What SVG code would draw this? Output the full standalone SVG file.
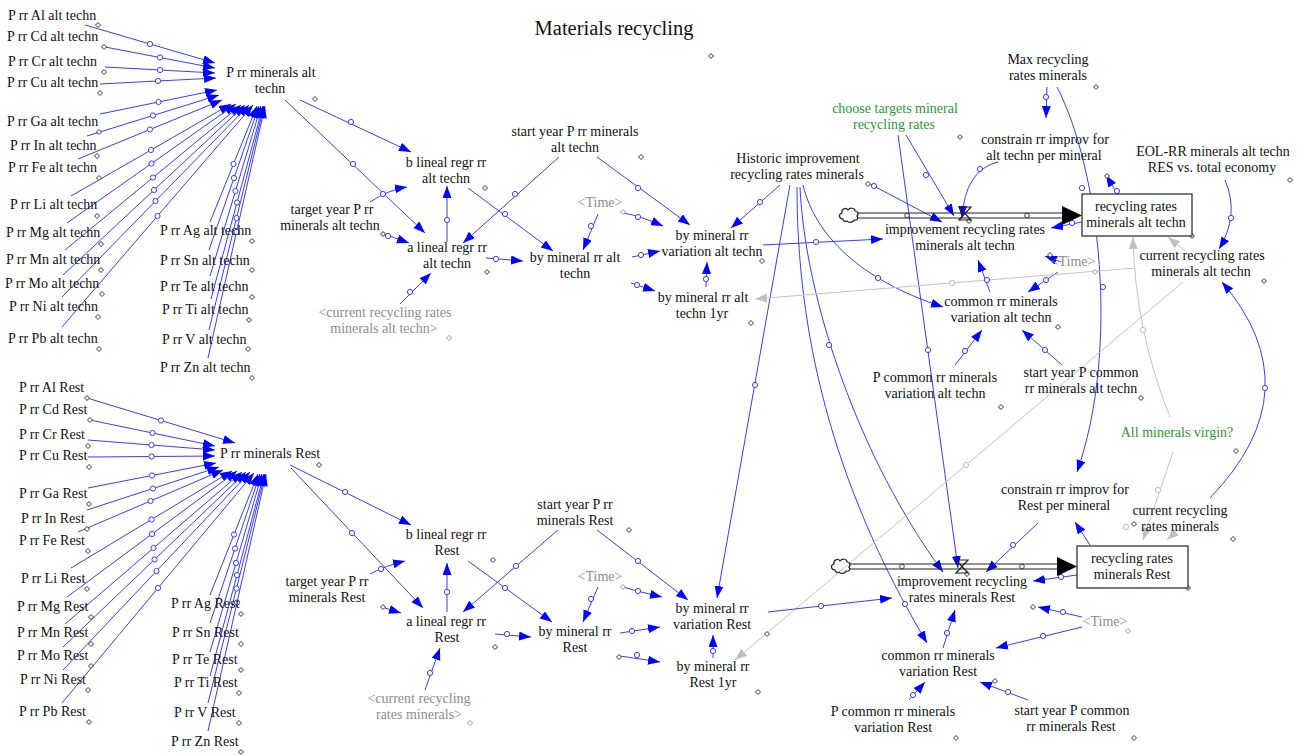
<svg xmlns="http://www.w3.org/2000/svg" width="1304" height="756" viewBox="0 0 1304 756">
<style>
text{font-family:"Liberation Serif","Times New Roman",serif;font-size:14px;fill:#111;text-anchor:middle}
.s{text-anchor:start}
.gy{fill:#8c8c8c}
.gn{fill:#2f962f}
.ttl{font-size:20.5px}
.c{fill:none;stroke:#3a3aff;stroke-width:1;marker-end:url(#ab)}
.cg{fill:none;stroke:#c4c4c4;stroke-width:1;marker-end:url(#ag)}
.m{fill:#fff;stroke:#3a3aff;stroke-width:1}
.mg{fill:#fff;stroke:#bbb;stroke-width:1}
.hd{fill:#fff;stroke:#333;stroke-width:1}
.hg{fill:#fff;stroke:#999;stroke-width:1}
.pipe{stroke:#222;stroke-width:1.2;fill:none}
.box{fill:#fff;stroke:#222;stroke-width:1.2}
</style>
<defs>
<marker id="ab" markerUnits="userSpaceOnUse" markerWidth="13" markerHeight="10" refX="12" refY="4.5" orient="auto"><path d="M0,0 L12,4.5 L0,9 z" fill="#0000ff"/></marker>
<marker id="ag" markerUnits="userSpaceOnUse" markerWidth="13" markerHeight="10" refX="12" refY="4.5" orient="auto"><path d="M0,0 L12,4.5 L0,9 z" fill="#c0c0c0"/></marker>
</defs>
<rect width="1304" height="756" fill="#fff"/>

<g id="connectors">
<path class="c" d="M85,25 L215,63"/>
<path class="c" d="M105,47 L215,68"/>
<path class="c" d="M105,67 L215,73"/>
<path class="c" d="M100,84 L216,78"/>
<path class="c" d="M100,114 L217,90"/>
<path class="c" d="M87,136 L219,95"/>
<path class="c" d="M78,159 L222,100"/>
<path class="c" d="M71,196 L231,104"/>
<path class="c" d="M67,223 L236,104"/>
<path class="c" d="M65,250 L241,105"/>
<path class="c" d="M63,275 L245,105"/>
<path class="c" d="M62,297 L249,105"/>
<path class="c" d="M62,327 L253,105"/>
<path class="c" d="M210,222 L257,106"/>
<path class="c" d="M209,250 L259,106"/>
<path class="c" d="M210,276 L261,106"/>
<path class="c" d="M211,299 L263,106"/>
<path class="c" d="M209,330 L264,106"/>
<path class="c" d="M208,358 L265,106"/>
<path class="c" d="M87,398 L235,443"/>
<path class="c" d="M90,420 L215,446"/>
<path class="c" d="M88,440 L215,450"/>
<path class="c" d="M88,457 L215,456"/>
<path class="c" d="M88,488 L216,463"/>
<path class="c" d="M87,510 L219,467"/>
<path class="c" d="M78,532 L223,470"/>
<path class="c" d="M71,568 L232,471"/>
<path class="c" d="M67,597 L237,471"/>
<path class="c" d="M65,624 L242,472"/>
<path class="c" d="M63,647 L246,472"/>
<path class="c" d="M63,670 L250,472"/>
<path class="c" d="M62,703 L254,473"/>
<path class="c" d="M210,595 L258,474"/>
<path class="c" d="M210,623 L260,474"/>
<path class="c" d="M210,652 L262,474"/>
<path class="c" d="M210,676 L264,474"/>
<path class="c" d="M208,703 L265,474"/>
<path class="c" d="M208,731 L266,474"/>
<path class="c" d="M300,100 L411,152"/>
<path class="c" d="M285,100 L425,233"/>
<path class="c" d="M370,202 Q388,190 407,187"/>
<path class="c" d="M384,234 L409,243"/>
<path class="c" d="M447,242 L447,186"/>
<path class="c" d="M559,157 L463,243"/>
<path class="c" d="M597,157 L690,225"/>
<path class="c" d="M468,188 L553,251"/>
<path class="c" d="M598,214 L583,250"/>
<path class="c" d="M624,213 Q640,216 663,226"/>
<path class="c" d="M486,258 L523,261"/>
<path class="c" d="M632,257 L660,251"/>
<path class="c" d="M631,283 L655,291"/>
<path class="c" d="M706,287 L707,262"/>
<path class="c" d="M400,304 L431,273"/>
<path class="c" d="M780,185 L731,228"/>
<path class="c" d="M870,184 L942,222"/>
<path class="c" d="M803,185 C815,235 860,280 943,307"/>
<path class="c" d="M790,185 L717,598"/>
<path class="c" d="M797,187 C797,330 830,480 927,643"/>
<path class="c" d="M800,187 C805,300 860,460 943,572"/>
<path class="c" d="M898,135 L958,568"/>
<path class="c" d="M906,135 L954,216"/>
<path class="c" d="M1047,87 L1046,118"/>
<path class="c" d="M1057,87 C1100,170 1120,350 1077,472"/>
<path class="c" d="M998,162 Q965,170 962,218"/>
<path class="c" d="M1118,195 L1106,175"/>
<path class="c" d="M1082,222 L1051,228"/>
<path class="c" d="M1225,180 Q1240,215 1219,249"/>
<path class="cg" d="M1170,417 Q1135,330 1133,237"/>
<path class="cg" d="M1185,251 L1168,237"/>
<path class="c" d="M1061,262 L1045,256"/>
<path class="c" d="M1058,272 L1028,292"/>
<path class="c" d="M1062,365 L1022,330"/>
<path class="c" d="M955,365 L982,330"/>
<path class="c" d="M990,292 L978,260"/>
<path class="c" d="M763,245 L883,239"/>
<path class="cg" d="M1135,268 L755,299"/>
<path class="cg" d="M1183,282 L735,660"/>
<path class="c" d="M290,465 L411,525"/>
<path class="c" d="M291,468 L423,608"/>
<path class="c" d="M370,574 Q385,566 405,561"/>
<path class="c" d="M385,608 L401,613"/>
<path class="c" d="M447,612 L447,563"/>
<path class="c" d="M558,530 L463,612"/>
<path class="c" d="M597,530 L688,600"/>
<path class="c" d="M468,561 L552,622"/>
<path class="c" d="M598,587 L583,622"/>
<path class="c" d="M623,587 Q640,592 662,597"/>
<path class="c" d="M495,634 L531,637"/>
<path class="c" d="M620,633 L660,627"/>
<path class="c" d="M620,656 L660,662"/>
<path class="c" d="M713,658 L713,635"/>
<path class="c" d="M768,612 L892,598"/>
<path class="c" d="M943,648 L955,610"/>
<path class="c" d="M909,700 L925,682"/>
<path class="c" d="M1028,700 L980,682"/>
<path class="c" d="M1082,617 L1038,607"/>
<path class="c" d="M1082,627 L996,648"/>
<path class="c" d="M1090,545 L1075,522"/>
<path class="c" d="M1038,523 L986,572"/>
<path class="c" d="M1077,575 L1033,581"/>
<path class="c" d="M1210,498 Q1314,390 1222,282"/>
<path class="cg" d="M1173,452 Q1160,490 1143,540"/>
<path class="cg" d="M1182,526 L1167,540"/>
<path class="c" d="M425,690 L440,648"/>
<g class="m">
<circle cx="150" cy="44" r="2.6"/><circle cx="160" cy="57.5" r="2.6"/><circle cx="160" cy="70" r="2.6"/><circle cx="158" cy="81" r="2.6"/><circle cx="158.5" cy="102" r="2.6"/><circle cx="153" cy="115.5" r="2.6"/><circle cx="150" cy="129.5" r="2.6"/><circle cx="151" cy="150" r="2.6"/><circle cx="151.5" cy="163.5" r="2.6"/><circle cx="153" cy="177.5" r="2.6"/><circle cx="154" cy="190" r="2.6"/><circle cx="155.5" cy="201" r="2.6"/><circle cx="157.5" cy="216" r="2.6"/>
<circle cx="233.5" cy="164" r="2.6"/><circle cx="234" cy="178" r="2.6"/><circle cx="235.5" cy="191" r="2.6"/><circle cx="237" cy="202.5" r="2.6"/><circle cx="236.5" cy="218" r="2.6"/><circle cx="236.5" cy="232" r="2.6"/>
<circle cx="161" cy="420.5" r="2.6"/><circle cx="152.5" cy="433" r="2.6"/><circle cx="151.5" cy="445" r="2.6"/><circle cx="151.5" cy="456.5" r="2.6"/><circle cx="152" cy="475.5" r="2.6"/><circle cx="153" cy="488.5" r="2.6"/><circle cx="150.5" cy="501" r="2.6"/><circle cx="151.5" cy="519.5" r="2.6"/><circle cx="152" cy="534" r="2.6"/><circle cx="153.5" cy="548" r="2.6"/><circle cx="154.5" cy="559.5" r="2.6"/><circle cx="156.5" cy="571" r="2.6"/><circle cx="158" cy="588" r="2.6"/>
<circle cx="234" cy="534.5" r="2.6"/><circle cx="235" cy="548.5" r="2.6"/><circle cx="236" cy="563" r="2.6"/><circle cx="237" cy="575" r="2.6"/><circle cx="236.5" cy="588.5" r="2.6"/><circle cx="237" cy="602.5" r="2.6"/>
<circle cx="351" cy="122" r="2.6"/><circle cx="353" cy="164" r="2.6"/><circle cx="383" cy="194" r="2.6"/><circle cx="388" cy="236" r="2.6"/><circle cx="447" cy="220" r="2.6"/><circle cx="515" cy="194" r="2.6"/><circle cx="638" cy="188" r="2.6"/><circle cx="505" cy="214" r="2.6"/><circle cx="591" cy="226" r="2.6"/><circle cx="638" cy="217" r="2.6"/><circle cx="496" cy="259" r="2.6"/><circle cx="641" cy="255" r="2.6"/><circle cx="637" cy="285" r="2.6"/><circle cx="706" cy="279" r="2.6"/><circle cx="410" cy="292" r="2.6"/>
<circle cx="760" cy="202" r="2.6"/><circle cx="874" cy="186" r="2.6"/><circle cx="878" cy="278" r="2.6"/><circle cx="755" cy="385" r="2.6"/><circle cx="905" cy="604" r="2.6"/><circle cx="829" cy="345" r="2.6"/><circle cx="928" cy="350" r="2.6"/><circle cx="926" cy="175" r="2.6"/><circle cx="1046" cy="97" r="2.6"/><circle cx="1103" cy="287" r="2.6"/><circle cx="980" cy="169" r="2.6"/><circle cx="1117" cy="191" r="2.6"/><circle cx="1072" cy="223" r="2.6"/><circle cx="1231" cy="218" r="2.6"/>
<circle cx="1046" cy="280" r="2.6"/><circle cx="1045" cy="350" r="2.6"/><circle cx="965" cy="351" r="2.6"/><circle cx="987" cy="280" r="2.6"/><circle cx="816" cy="242" r="2.6"/>
<circle cx="345" cy="492" r="2.6"/><circle cx="352" cy="533" r="2.6"/><circle cx="381" cy="569" r="2.6"/><circle cx="447" cy="592" r="2.6"/><circle cx="516" cy="566" r="2.6"/><circle cx="638" cy="561" r="2.6"/><circle cx="505" cy="588" r="2.6"/><circle cx="591" cy="599" r="2.6"/><circle cx="638" cy="591" r="2.6"/><circle cx="507" cy="634" r="2.6"/><circle cx="632" cy="631" r="2.6"/><circle cx="637" cy="655" r="2.6"/><circle cx="713" cy="651" r="2.6"/><circle cx="821" cy="606" r="2.6"/><circle cx="947" cy="633" r="2.6"/><circle cx="913" cy="695" r="2.6"/><circle cx="1008" cy="692" r="2.6"/><circle cx="1063" cy="612" r="2.6"/><circle cx="1043" cy="636" r="2.6"/><circle cx="1013" cy="545" r="2.6"/><circle cx="1061" cy="577" r="2.6"/><circle cx="1265" cy="388" r="2.6"/><circle cx="430" cy="673" r="2.6"/><circle cx="1082" cy="188" r="2.6"/>
</g>
<g class="mg">
<circle cx="1143" cy="330" r="2.6"/><circle cx="1158" cy="490" r="2.6"/><circle cx="952" cy="283" r="2.6"/><circle cx="966" cy="465" r="2.6"/><circle cx="1126" cy="527" r="2.6"/>
</g>
<path class="hd" d="M98,22.5l2.5,2.5l-2.5,2.5l-2.5,-2.5z M104,44.5l2.5,2.5l-2.5,2.5l-2.5,-2.5z M104,69.5l2.5,2.5l-2.5,2.5l-2.5,-2.5z M100,90.5l2.5,2.5l-2.5,2.5l-2.5,-2.5z M99,129.5l2.5,2.5l-2.5,2.5l-2.5,-2.5z M97,153.5l2.5,2.5l-2.5,2.5l-2.5,-2.5z M99,175.5l2.5,2.5l-2.5,2.5l-2.5,-2.5z M97,213.5l2.5,2.5l-2.5,2.5l-2.5,-2.5z M101,241.5l2.5,2.5l-2.5,2.5l-2.5,-2.5z M101,267.5l2.5,2.5l-2.5,2.5l-2.5,-2.5z M102,291.5l2.5,2.5l-2.5,2.5l-2.5,-2.5z M98,314.5l2.5,2.5l-2.5,2.5l-2.5,-2.5z M99,346.5l2.5,2.5l-2.5,2.5l-2.5,-2.5z M252,238.5l2.5,2.5l-2.5,2.5l-2.5,-2.5z M252,267.5l2.5,2.5l-2.5,2.5l-2.5,-2.5z M252,294.5l2.5,2.5l-2.5,2.5l-2.5,-2.5z M249,317.5l2.5,2.5l-2.5,2.5l-2.5,-2.5z M248,346.5l2.5,2.5l-2.5,2.5l-2.5,-2.5z M252,375.5l2.5,2.5l-2.5,2.5l-2.5,-2.5z M315,96.5l2.5,2.5l-2.5,2.5l-2.5,-2.5z M87,395.5l2.5,2.5l-2.5,2.5l-2.5,-2.5z M90,417.5l2.5,2.5l-2.5,2.5l-2.5,-2.5z M88,443.5l2.5,2.5l-2.5,2.5l-2.5,-2.5z M89,464.5l2.5,2.5l-2.5,2.5l-2.5,-2.5z M89,501.5l2.5,2.5l-2.5,2.5l-2.5,-2.5z M87,526.5l2.5,2.5l-2.5,2.5l-2.5,-2.5z M88,548.5l2.5,2.5l-2.5,2.5l-2.5,-2.5z M87,586.5l2.5,2.5l-2.5,2.5l-2.5,-2.5z M91,614.5l2.5,2.5l-2.5,2.5l-2.5,-2.5z M91,641.5l2.5,2.5l-2.5,2.5l-2.5,-2.5z M91,663.5l2.5,2.5l-2.5,2.5l-2.5,-2.5z M88,687.5l2.5,2.5l-2.5,2.5l-2.5,-2.5z M89,719.5l2.5,2.5l-2.5,2.5l-2.5,-2.5z M241,611.5l2.5,2.5l-2.5,2.5l-2.5,-2.5z M241,641.5l2.5,2.5l-2.5,2.5l-2.5,-2.5z M241,667.5l2.5,2.5l-2.5,2.5l-2.5,-2.5z M239,690.5l2.5,2.5l-2.5,2.5l-2.5,-2.5z M239,720.5l2.5,2.5l-2.5,2.5l-2.5,-2.5z M241,749.5l2.5,2.5l-2.5,2.5l-2.5,-2.5z M319,462.5l2.5,2.5l-2.5,2.5l-2.5,-2.5z M711,53.5l2.5,2.5l-2.5,2.5l-2.5,-2.5z M485,185.5l2.5,2.5l-2.5,2.5l-2.5,-2.5z M641,154.5l2.5,2.5l-2.5,2.5l-2.5,-2.5z M487,269.5l2.5,2.5l-2.5,2.5l-2.5,-2.5z M762,258.5l2.5,2.5l-2.5,2.5l-2.5,-2.5z M751,320.5l2.5,2.5l-2.5,2.5l-2.5,-2.5z M960,134.5l2.5,2.5l-2.5,2.5l-2.5,-2.5z M1096,84.5l2.5,2.5l-2.5,2.5l-2.5,-2.5z M1290,177.5l2.5,2.5l-2.5,2.5l-2.5,-2.5z M1192,233.5l2.5,2.5l-2.5,2.5l-2.5,-2.5z M1264,278.5l2.5,2.5l-2.5,2.5l-2.5,-2.5z M1058,324.5l2.5,2.5l-2.5,2.5l-2.5,-2.5z M1001,404.5l2.5,2.5l-2.5,2.5l-2.5,-2.5z M1141,395.5l2.5,2.5l-2.5,2.5l-2.5,-2.5z M1236,448.5l2.5,2.5l-2.5,2.5l-2.5,-2.5z M1050,252.5l2.5,2.5l-2.5,2.5l-2.5,-2.5z M493,557.5l2.5,2.5l-2.5,2.5l-2.5,-2.5z M629,527.5l2.5,2.5l-2.5,2.5l-2.5,-2.5z M495,644.5l2.5,2.5l-2.5,2.5l-2.5,-2.5z M619,654.5l2.5,2.5l-2.5,2.5l-2.5,-2.5z M383,604.5l2.5,2.5l-2.5,2.5l-2.5,-2.5z M767,631.5l2.5,2.5l-2.5,2.5l-2.5,-2.5z M758,689.5l2.5,2.5l-2.5,2.5l-2.5,-2.5z M956,735.5l2.5,2.5l-2.5,2.5l-2.5,-2.5z M995,678.5l2.5,2.5l-2.5,2.5l-2.5,-2.5z M1134,521.5l2.5,2.5l-2.5,2.5l-2.5,-2.5z M1233,536.5l2.5,2.5l-2.5,2.5l-2.5,-2.5z M1188,585.5l2.5,2.5l-2.5,2.5l-2.5,-2.5z M1033,604.5l2.5,2.5l-2.5,2.5l-2.5,-2.5z M1134,735.5l2.5,2.5l-2.5,2.5l-2.5,-2.5z M383,231.5l2.5,2.5l-2.5,2.5l-2.5,-2.5z M868,181.5l2.5,2.5l-2.5,2.5l-2.5,-2.5z M1107,173.5l2.5,2.5l-2.5,2.5l-2.5,-2.5z M969,218.5l2.5,2.5l-2.5,2.5l-2.5,-2.5z M967,571.5l2.5,2.5l-2.5,2.5l-2.5,-2.5z"/>
<path class="hg" d="M449,335.5l2.5,2.5l-2.5,2.5l-2.5,-2.5z M623,209.5l2.5,2.5l-2.5,2.5l-2.5,-2.5z M470,720.5l2.5,2.5l-2.5,2.5l-2.5,-2.5z M623,584.5l2.5,2.5l-2.5,2.5l-2.5,-2.5z M1128,628.5l2.5,2.5l-2.5,2.5l-2.5,-2.5z M1095,269.5l2.5,2.5l-2.5,2.5l-2.5,-2.5z"/>
</g>

<g id="flow-alt">
<path class="pipe" fill="#fff" d="M843,219 c-4,0 -5,-5 -1,-6 c-1,-4 4,-6 6,-3 c2,-3 7,-2 7,1 c3,0 4,3 2,5 c2,2 0,5 -3,4 c-1,3 -6,3 -7,1 c-2,1 -4,0 -4,-2 z"/>
<path class="pipe" d="M857,213 H1064 M857,218 H1064"/>
<path d="M1062,206 L1082,215.5 L1062,225 z" fill="#000"/>
<path class="pipe" fill="#fff" d="M959,207 H971 L959,220 H971 Z"/>
<circle class="hd" cx="907" cy="215.5" r="2.3"/><circle class="hd" cx="1027" cy="215.5" r="2.3"/>
</g>
<g id="flow-rest">
<path class="pipe" fill="#fff" d="M835,570 c-4,0 -5,-5 -1,-6 c-1,-4 4,-6 6,-3 c2,-3 7,-2 7,1 c3,0 4,3 2,5 c2,2 0,5 -3,4 c-1,3 -6,3 -7,1 c-2,1 -4,0 -4,-2 z"/>
<path class="pipe" d="M849,564 H1059 M849,569 H1059"/>
<path d="M1057,557 L1077,566.5 L1057,576 z" fill="#000"/>
<path class="pipe" fill="#fff" d="M956,560 H968 L956,573 H968 Z"/>
<circle class="hd" cx="902" cy="566.5" r="2.3"/><circle class="hd" cx="1022" cy="566.5" r="2.3"/>
</g>

<text class="ttl" x="614" y="35">Materials recycling</text>

<g id="P-rr-alt-left">
<g id="n-al-alt"><text class="s" x="8" y="20">P rr Al alt techn</text></g>
<g id="n-cd-alt"><text class="s" x="7" y="41">P rr Cd alt techn</text></g>
<g id="n-cr-alt"><text class="s" x="8" y="66">P rr Cr alt techn</text></g>
<g id="n-cu-alt"><text class="s" x="7" y="87">P rr Cu alt techn</text></g>
<g id="n-ga-alt"><text class="s" x="7" y="126">P rr Ga alt techn</text></g>
<g id="n-in-alt"><text class="s" x="10" y="150">P rr In alt techn</text></g>
<g id="n-fe-alt"><text class="s" x="8" y="172">P rr Fe alt techn</text></g>
<g id="n-li-alt"><text class="s" x="10" y="209">P rr Li alt techn</text></g>
<g id="n-mg-alt"><text class="s" x="6" y="237">P rr Mg alt techn</text></g>
<g id="n-mn-alt"><text class="s" x="6" y="264">P rr Mn alt techn</text></g>
<g id="n-mo-alt"><text class="s" x="5" y="288">P rr Mo alt techn</text></g>
<g id="n-ni-alt"><text class="s" x="9" y="311">P rr Ni alt techn</text></g>
<g id="n-pb-alt"><text class="s" x="8" y="343">P rr Pb alt techn</text></g>
<g id="n-ag-alt"><text class="s" x="160" y="235">P rr Ag alt techn</text></g>
<g id="n-sn-alt"><text class="s" x="160" y="265">P rr Sn alt techn</text></g>
<g id="n-te-alt"><text class="s" x="160" y="291">P rr Te alt techn</text></g>
<g id="n-ti-alt"><text class="s" x="162" y="314">P rr Ti alt techn</text></g>
<g id="n-v-alt"><text class="s" x="162" y="344">P rr V alt techn</text></g>
<g id="n-zn-alt"><text class="s" x="160" y="372">P rr Zn alt techn</text></g>
</g>
<g id="n-hub-alt"><text x="271" y="77">P rr minerals alt<tspan x="270" dy="16">techn</tspan></text></g>

<g id="P-rr-rest-left">
<g id="n-al-rest"><text class="s" x="19" y="392">P rr Al Rest</text></g>
<g id="n-cd-rest"><text class="s" x="19" y="414">P rr Cd Rest</text></g>
<g id="n-cr-rest"><text class="s" x="19" y="439">P rr Cr Rest</text></g>
<g id="n-cu-rest"><text class="s" x="19" y="460">P rr Cu Rest</text></g>
<g id="n-ga-rest"><text class="s" x="19" y="498">P rr Ga Rest</text></g>
<g id="n-in-rest"><text class="s" x="21" y="523">P rr In Rest</text></g>
<g id="n-fe-rest"><text class="s" x="19" y="545">P rr Fe Rest</text></g>
<g id="n-li-rest"><text class="s" x="21" y="583">P rr Li Rest</text></g>
<g id="n-mg-rest"><text class="s" x="17" y="611">P rr Mg Rest</text></g>
<g id="n-mn-rest"><text class="s" x="17" y="637">P rr Mn Rest</text></g>
<g id="n-mo-rest"><text class="s" x="17" y="660">P rr Mo Rest</text></g>
<g id="n-ni-rest"><text class="s" x="20" y="684">P rr Ni Rest</text></g>
<g id="n-pb-rest"><text class="s" x="19" y="716">P rr Pb Rest</text></g>
<g id="n-ag-rest"><text class="s" x="171" y="608">P rr Ag Rest</text></g>
<g id="n-sn-rest"><text class="s" x="172" y="637">P rr Sn Rest</text></g>
<g id="n-te-rest"><text class="s" x="172" y="664">P rr Te Rest</text></g>
<g id="n-ti-rest"><text class="s" x="174" y="687">P rr Ti Rest</text></g>
<g id="n-v-rest"><text class="s" x="174" y="717">P rr V Rest</text></g>
<g id="n-zn-rest"><text class="s" x="171" y="746">P rr Zn Rest</text></g>
</g>
<g id="n-hub-rest"><text class="s" x="220" y="458">P rr minerals Rest</text></g>

<g id="n-b-alt"><text x="446" y="167">b lineal regr rr<tspan x="446" dy="16">alt techn</tspan></text></g>
<g id="n-target-alt"><text x="332" y="214">target year P rr<tspan x="330" dy="16">minerals alt techn</tspan></text></g>
<g id="n-a-alt"><text x="447" y="252">a lineal regr rr<tspan x="447" dy="16">alt techn</tspan></text></g>
<g id="n-start-alt"><text x="575" y="136">start year P rr minerals<tspan x="575" dy="16">alt techn</tspan></text></g>
<g id="n-time1"><text class="gy" x="600" y="207">&lt;Time&gt;</text></g>
<g id="n-by-alt"><text x="575" y="262">by mineral rr alt<tspan x="575" dy="16">techn</tspan></text></g>
<g id="n-cur-alt-shadow"><text class="gy" x="385" y="317">&lt;current recycling rates<tspan x="384" dy="16">minerals alt techn&gt;</tspan></text></g>
<g id="n-var-alt"><text x="712" y="240">by mineral rr<tspan x="712" dy="16">variation alt techn</tspan></text></g>
<g id="n-1yr-alt"><text x="703" y="302">by mineral rr alt<tspan x="702" dy="16">techn 1yr</tspan></text></g>
<g id="n-historic"><text x="798" y="163">Historic improvement<tspan x="797" dy="16">recycling rates minerals</tspan></text></g>
<g id="n-choose"><text class="gn" x="895" y="113">choose targets mineral<tspan x="894" dy="16">recycling rates</tspan></text></g>
<g id="n-max"><text x="1048" y="64">Max recycling<tspan x="1048" dy="16">rates minerals</tspan></text></g>
<g id="n-constrain-alt"><text x="1045" y="144">constrain rr improv for<tspan x="1044" dy="16">alt techn per mineral</tspan></text></g>
<g id="n-eol"><text x="1213" y="156">EOL-RR minerals alt techn<tspan x="1212" dy="16">RES vs. total economy</tspan></text></g>
<g id="n-stock-alt"><rect class="box" x="1082" y="194" width="110" height="42"/><text x="1136" y="211">recycling rates<tspan x="1136" dy="16">minerals alt techn</tspan></text></g>
<g id="n-impr-alt"><text x="965" y="234">improvement recycling rates<tspan x="965" dy="16">minerals alt techn</tspan></text></g>
<g id="n-cur-alt"><text x="1202" y="260">current recycling rates<tspan x="1201" dy="16">minerals alt techn</tspan></text></g>
<g id="n-time2"><text class="gy" x="1073" y="266">&lt;Time&gt;</text></g>
<g id="n-common-alt"><text x="1001" y="306">common rr minerals<tspan x="1001" dy="16">variation alt techn</tspan></text></g>
<g id="n-pcommon-alt"><text x="935" y="382">P common rr minerals<tspan x="935" dy="16">variation alt techn</tspan></text></g>
<g id="n-startcommon-alt"><text x="1081" y="377">start year P common<tspan x="1081" dy="16">rr minerals alt techn</tspan></text></g>
<g id="n-virgin"><text class="gn" x="1177" y="437">All minerals virgin?</text></g>

<g id="n-constrain-rest"><text x="1065" y="494">constrain rr improv for<tspan x="1064" dy="16">Rest per mineral</tspan></text></g>
<g id="n-cur-rest"><text x="1180" y="515">current recycling<tspan x="1180" dy="16">rates minerals</tspan></text></g>
<g id="n-stock-rest"><rect class="box" x="1077" y="546" width="111" height="42"/><text x="1132" y="563">recycling rates<tspan x="1132" dy="16">minerals Rest</tspan></text></g>
<g id="n-impr-rest"><text x="962" y="586">improvement recycling<tspan x="962" dy="16">rates minerals Rest</tspan></text></g>
<g id="n-time5"><text class="gy" x="1105" y="626">&lt;Time&gt;</text></g>
<g id="n-common-rest"><text x="938" y="660">common rr minerals<tspan x="938" dy="16">variation Rest</tspan></text></g>
<g id="n-pcommon-rest"><text x="893" y="716">P common rr minerals<tspan x="893" dy="16">variation Rest</tspan></text></g>
<g id="n-startcommon-rest"><text x="1072" y="715">start year P common<tspan x="1071" dy="16">rr minerals Rest</tspan></text></g>
<g id="n-var-rest"><text x="712" y="613">by mineral rr<tspan x="712" dy="16">variation Rest</tspan></text></g>
<g id="n-1yr-rest"><text x="713" y="671">by mineral rr<tspan x="713" dy="16">Rest 1yr</tspan></text></g>
<g id="n-b-rest"><text x="446" y="539">b lineal regr rr<tspan x="447" dy="16">Rest</tspan></text></g>
<g id="n-start-rest"><text x="575" y="509">start year P rr<tspan x="575" dy="16">minerals Rest</tspan></text></g>
<g id="n-target-rest"><text x="327" y="586">target year P rr<tspan x="327" dy="16">minerals Rest</tspan></text></g>
<g id="n-a-rest"><text x="446" y="626">a lineal regr rr<tspan x="447" dy="16">Rest</tspan></text></g>
<g id="n-time4"><text class="gy" x="600" y="581">&lt;Time&gt;</text></g>
<g id="n-by-rest"><text x="575" y="636">by mineral rr<tspan x="575" dy="16">Rest</tspan></text></g>
<g id="n-cur-rest-shadow"><text class="gy" x="419" y="703">&lt;current recycling<tspan x="419" dy="16">rates minerals&gt;</tspan></text></g>
</svg>
